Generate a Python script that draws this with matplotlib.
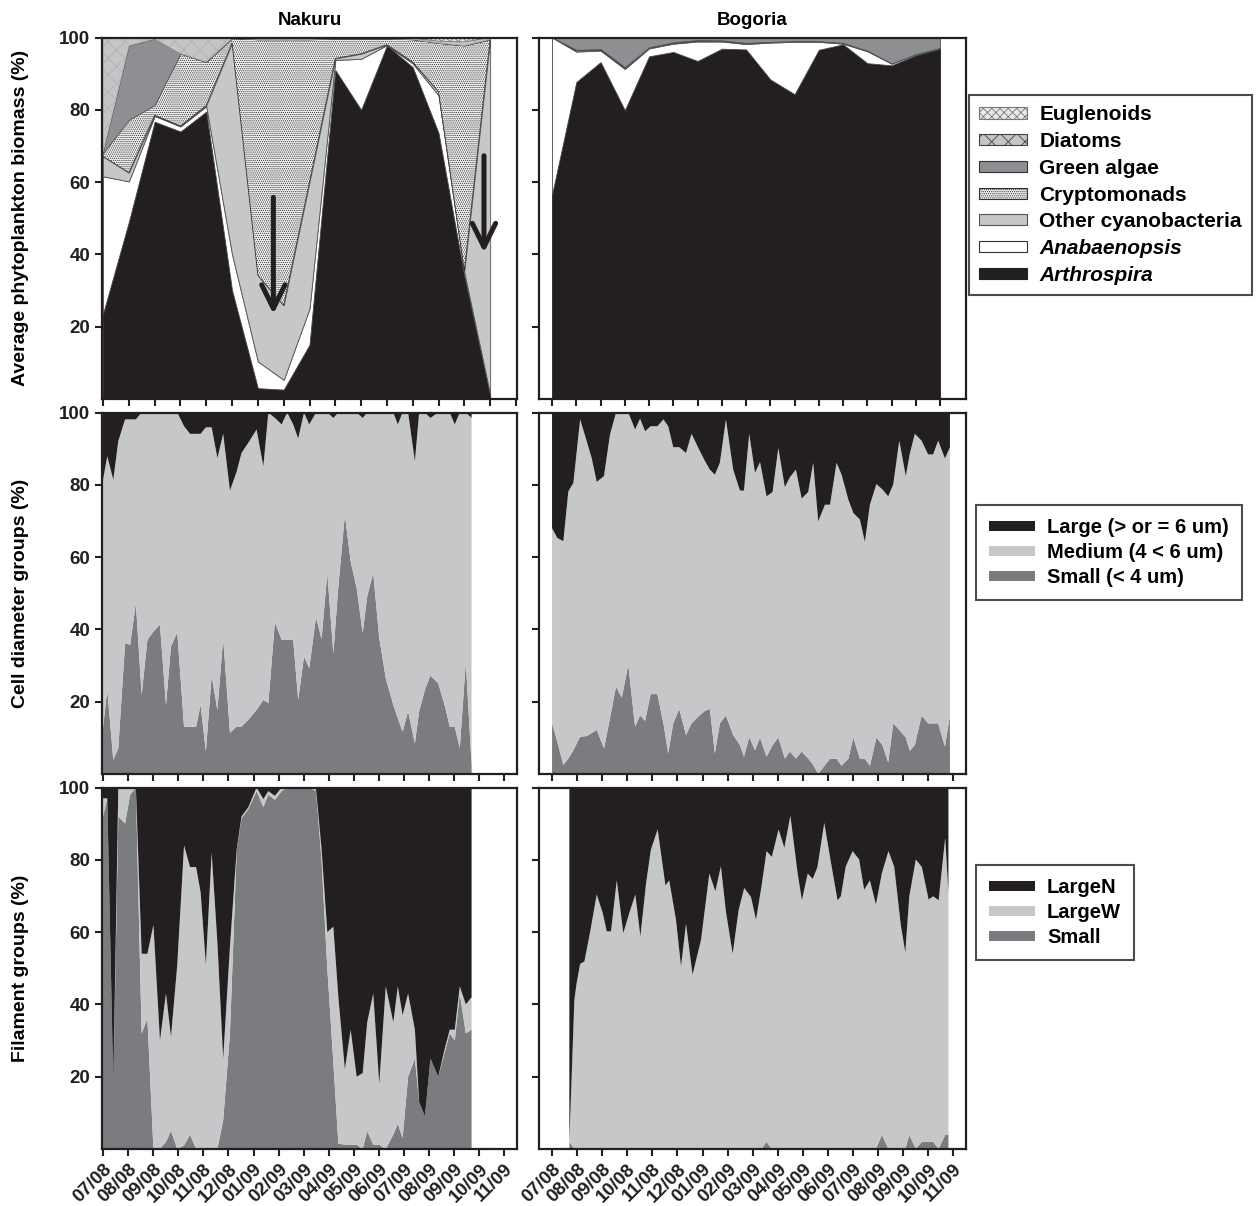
import numpy as np
import matplotlib.pyplot as plt
from matplotlib.patches import Patch

plt.rcParams['font.family'] = ['Liberation Sans', 'DejaVu Sans']
plt.rcParams['font.weight'] = 'bold'
plt.rcParams['hatch.linewidth'] = 0.6

BLACK = '#231f20'
LIGHT = '#c6c7c9'
DARK = '#7b7c80'

month_labels = ['07/08', '08/08', '09/08', '10/08', '11/08', '12/08', '01/09', '02/09', '03/09',
                '04/09', '05/09', '06/09', '07/09', '08/09', '09/09', '10/09', '11/09']

# ---- phytoplankton biomass (%), per sampling event ----
nak_arthrospira = [23.6, 49.0, 76.7, 74.0, 79.5, 30.0, 3.0, 2.6, 15.0, 91.0, 80.0, 97.8, 91.8, 73.6, 34.0, 1.2]
nak_anabaenopsis = [38.0, 11.2, 1.6, 1.4, 1.5, 10.0, 7.4, 2.7, 10.0, 2.8, 14.1, 0.1, 1.0, 10.4, 1.0, 0.1]
nak_othercyano = [5.5, 2.4, 0.2, 0.1, 0.2, 58.5, 23.8, 20.6, 35.0, 0.4, 1.4, 0.1, 0.4, 1.0, 0.5, 98.2]
nak_crypto = [0.9, 14.6, 2.8, 20.0, 12.0, 1.3, 65.3, 73.6, 39.5, 5.5, 4.2, 1.7, 6.3, 13.5, 62.3, 0.0]
nak_green = [0.5, 20.6, 18.4, 0.1, 0.1, 0, 0, 0, 0, 0, 0, 0, 0, 0, 0, 0]
nak_diatoms = [31.5, 2.2, 0.3, 4.4, 6.7, 0.2, 0.3, 0.3, 0.3, 0.2, 0.2, 0.2, 0.3, 0.5, 1.0, 0.5]
nak_euglenoids = [0, 0, 0, 0, 0, 0, 0.2, 0.2, 0.2, 0.1, 0.1, 0.1, 0.2, 1.0, 1.2, 0]

bog_arthrospira = [56.6, 87.7, 93.2, 79.9, 94.8, 96.0, 93.5, 96.9, 96.7, 88.4, 84.3, 96.6, 98.1, 92.9, 92.3, 95.1, 96.9]
bog_anabaenopsis = [43.4, 8.4, 3.2, 11.4, 2.2, 2.3, 5.4, 2.0, 1.5, 10.2, 14.5, 2.2, 0.2, 3.3, 0.5, 0.3, 0.2]
bog_othercyano = [0, 0.3, 0.2, 0.3, 0.2, 0.2, 0.2, 0.2, 0.2, 0.2, 0.2, 0.2, 0.2, 0.2, 0, 0, 0]
bog_crypto = [0, 0.2, 0.2, 0.2, 0.1, 0.2, 0.2, 0.1, 0.1, 0, 0, 0, 0, 0, 0, 0, 0]
bog_green = [0, 3.4, 3.2, 8.2, 2.7, 1.3, 0.7, 0.8, 1.5, 1.2, 1.0, 1.0, 1.5, 3.6, 7.2, 4.6, 2.9]
bog_diatoms = [0] * 17
bog_euglenoids = [0] * 17

# ---- Nakuru weekly samples (months since 07/08) ----
nak_t = [0.00, 0.17, 0.41, 0.61, 0.88, 1.08, 1.31, 1.54, 1.77, 2.01,
         2.27, 2.51, 2.71, 2.96, 3.23, 3.47, 3.71, 3.89, 4.10, 4.33,
         4.56, 4.79, 5.06, 5.33, 5.52, 5.79, 6.12, 6.39, 6.59, 6.85,
         7.12, 7.34, 7.58, 7.78, 8.01, 8.22, 8.49, 8.71, 8.94, 9.18,
         9.38, 9.64, 9.87, 10.11, 10.35, 10.53, 10.77, 11.01, 11.27, 11.57,
         11.75, 11.94, 12.16, 12.43, 12.60, 12.83, 13.05, 13.36, 13.63, 13.82,
         14.02, 14.22, 14.46, 14.69]
nak_cell_small = [12.7, 23.4, 3.9, 7.1, 36.2, 35.7, 47.3, 21.9, 37.1, 39.4,
                  41.3, 19.1, 35.3, 39.2, 13.1, 13.1, 13.1, 19.1, 6.2, 27.2,
                  17.7, 37.6, 11.4, 13.1, 13.1, 15.0, 17.7, 20.5, 19.6, 42.0,
                  37.1, 37.1, 37.1, 20.5, 32.5, 29.3, 43.4, 37.3, 55.6, 33.4,
                  51.9, 71.7, 58.8, 51.4, 39.0, 49.1, 55.6, 37.6, 26.5, 19.1,
                  15.4, 11.7, 17.3, 8.5, 17.3, 23.3, 27.2, 25.1, 18.7, 13.1,
                  13.1, 7.1, 31.1, 2.5]
nak_cell_large = [18.6, 12.1, 18.6, 7.9, 1.9, 1.9, 1.9, 0, 0, 0,
                  0, 0, 0, 0, 3.8, 5.9, 5.9, 5.9, 4.1, 4.1,
                  12.6, 5.9, 21.6, 16.3, 11.2, 8.4, 4.7, 14.9, 0, 1.5,
                  3.3, 0, 3.3, 7.2, 0, 3.3, 0, 0, 0, 1.5,
                  0, 0, 0, 0, 1.5, 0, 0, 0, 0, 0,
                  3.3, 0, 0, 13.5, 0, 0, 1.5, 0, 0, 0,
                  3.3, 0, 0, 1.5]
nak_fil_small = [92, 97, 18, 92, 90, 98, 100, 32, 36, 0,
                 0, 2, 5, 0, 1, 4, 0, 0, 0, 0,
                 0, 8, 32, 83, 91.5, 94, 99, 94.6, 98, 96.6,
                 99, 100, 100, 100, 100, 100, 99, 80, 50, 24,
                 1.5, 1.2, 1.2, 1.2, 0, 5, 1.2, 1.2, 0, 4,
                 7, 3, 20, 25, 13, 9, 25, 20, 27, 32,
                 30, 43, 32, 33]
nak_fil_largeN = [3, 3, 82, 0, 0, 0, 0, 46, 46, 38,
                  70, 57, 69, 49, 16, 22, 22, 29, 49, 18,
                  43, 75, 44, 17, 8, 5.5, 0, 3.2, 1, 2.3,
                  0, 0, 0, 0, 0, 0, 0.5, 17, 40, 38.5,
                  58, 78, 67, 80, 79, 65, 57, 82, 55, 65,
                  55, 63, 57, 67, 87, 91, 75, 80, 72, 67,
                  67, 55, 60, 58]

# ---- Bogoria samples ----
bog_cell_t = [0.0, 0.21, 0.45, 0.65, 0.85, 1.12, 1.38, 1.58, 1.78, 2.07,
              2.31, 2.55, 2.78, 3.04, 3.31, 3.51, 3.71, 3.93, 4.20, 4.44,
              4.63, 4.83, 5.07, 5.34, 5.56, 5.83, 6.10, 6.29, 6.49, 6.69,
              6.93, 7.22, 7.49, 7.65, 7.86, 8.09, 8.29, 8.55, 8.79, 9.02,
              9.28, 9.48, 9.72, 9.95, 10.21, 10.41, 10.61, 10.88, 11.08, 11.34,
              11.54, 11.81, 12.01, 12.27, 12.47, 12.67, 12.93, 13.17, 13.40, 13.60,
              13.84, 14.10, 14.26, 14.46, 14.73, 14.99, 15.19, 15.39, 15.66, 15.86]
bog_cell_small = [14.0, 9.0, 2.5, 4.3, 6.6, 10.3, 10.5, 11.3, 12.2, 7.1,
                  15.4, 24.2, 21.1, 30.2, 13.1, 16.2, 14.7, 22.1, 22.1, 14.0,
                  5.7, 14.0, 18.0, 10.8, 14.0, 15.9, 17.5, 18.0, 5.7, 14.0,
                  16.2, 10.8, 8.0, 4.8, 10.2, 6.6, 10.1, 4.8, 8.0, 10.1,
                  4.3, 6.2, 4.3, 6.2, 4.3, 2.5, 0.0, 2.5, 4.2, 4.2,
                  2.3, 4.2, 10.1, 4.2, 4.2, 2.3, 10.1, 8.0, 3.2, 14.0,
                  12.2, 10.1, 6.4, 8.0, 16.2, 14.0, 14.0, 14.0, 7.6, 16.2]
bog_cell_large = [32.0, 34.7, 35.6, 21.8, 19.5, 1.9, 7.9, 12.6, 19.2, 17.6,
                  6.1, 0.0, 0.0, 0.0, 4.7, 1.7, 5.2, 3.8, 3.8, 1.9,
                  3.8, 9.6, 9.6, 11.2, 5.9, 9.8, 13.5, 15.8, 17.2, 13.9,
                  1.9, 15.8, 21.6, 21.6, 5.9, 16.7, 13.7, 23.2, 22.0, 9.8,
                  20.7, 17.9, 15.8, 23.8, 22.0, 13.9, 30.1, 25.5, 25.5, 13.9,
                  17.2, 24.1, 27.8, 29.6, 35.8, 25.5, 19.8, 21.3, 23.2, 19.9,
                  7.8, 17.6, 11.4, 5.9, 7.8, 11.6, 11.6, 7.8, 12.7, 9.6]

bog_fil_t = [0.69, 0.89, 0.98, 1.12, 1.29, 1.51, 1.78, 2.02, 2.18, 2.35,
             2.58, 2.84, 3.08, 3.32, 3.52, 3.75, 3.94, 4.21, 4.52, 4.67,
             4.94, 5.14, 5.34, 5.60, 5.94, 6.27, 6.51, 6.73, 6.93, 7.20,
             7.44, 7.66, 7.93, 8.13, 8.35, 8.55, 8.76, 9.03, 9.26, 9.50,
             9.79, 9.96, 10.19, 10.39, 10.58, 10.85, 11.12, 11.38, 11.51, 11.71,
             11.98, 12.24, 12.44, 12.67, 12.91, 13.15, 13.41, 13.64, 13.90, 14.08,
             14.24, 14.50, 14.74, 15.01, 15.19, 15.41, 15.67, 15.80]
bog_fil_largeN = [98, 58.7, 54.1, 48.8, 48.1, 40.3, 29.6, 34.7, 39.8, 39.8,
                  25.7, 40.3, 34.7, 29.6, 41.2, 26.4, 17.2, 11.6, 27.1, 25.7,
                  36.6, 49.5, 37.7, 51.8, 42.1, 23.8, 28.7, 21.8, 34.3, 46.0,
                  33.8, 27.8, 30.3, 36.6, 27.3, 17.6, 19.2, 11.6, 16.7, 7.8,
                  23.8, 31.2, 23.8, 25.3, 22.0, 9.8, 20.9, 31.2, 30.1, 21.8,
                  17.6, 19.9, 28.3, 25.7, 32.4, 23.6, 17.6, 22.0, 38.0, 45.6,
                  30.1, 19.9, 22.0, 31.0, 30.1, 31.2, 13.9, 29.0]
bog_fil_small = [2, 0, 0, 0, 0, 0, 0, 0, 0, 0,
                 0, 0, 0, 0, 0, 0, 0, 0, 0, 0,
                 0, 0, 0, 0, 0, 0, 0, 0, 0, 0,
                 0, 0, 0, 0, 0, 2, 0, 0, 0, 0,
                 0, 0, 0, 0, 0, 0, 0, 0, 0, 0,
                 0, 0, 0, 0, 0, 3.9, 0, 0, 0, 0,
                 3.9, 0, 2, 2, 2, 0, 3.9, 4]

# layer styles for the biomass panels (bottom -> top)
biomass_names = ['Arthrospira', 'Anabaenopsis', 'Other cyanobacteria', 'Cryptomonads',
                 'Green algae', 'Diatoms', 'Euglenoids']
biomass_face = [BLACK, 'white', LIGHT, '#f4f4f4', '#8e8f92', '#c4c5c7', '#e8e8e8']
biomass_hatch = [None, None, None, '........', None, 'xx', 'xxxx']
biomass_edge = [BLACK, '#444444', '#555555', '#333333', '#555555', '#b0b1b3', '#777777']
legend_edge = [BLACK, '#333333', '#555555', '#333333', '#333333', '#444444', '#777777']

fig = plt.figure(figsize=(12.57, 12.06), dpi=100)

LEFT_X, LEFT_W = 102 / 1257, 415 / 1257
RIGHT_X, RIGHT_W = 539 / 1257, 427 / 1257
ROWS = [(1 - 399 / 1206), (1 - 774 / 1206), (1 - 1149 / 1206)]
H = 361.5 / 1206


def make_ax(x0, w, row, xlim, show_ylab, show_xlab):
    ax = fig.add_axes([x0, ROWS[row], w, H])
    ax.set_xlim(*xlim)
    ax.set_ylim(0, 100)
    ax.set_xticks(range(17))
    ax.set_yticks([20, 40, 60, 80, 100])
    for s in ax.spines.values():
        s.set_linewidth(1.6)
        s.set_color(BLACK)
    ax.tick_params(direction='out', length=5, width=1.5, labelsize=13.5, colors=BLACK)
    if not show_ylab:
        ax.tick_params(labelleft=False)
    if show_xlab:
        ax.set_xticklabels(month_labels, rotation=45, ha='right', rotation_mode='anchor')
    else:
        ax.tick_params(labelbottom=False)
    return ax


def stack_biomass(ax, layers):
    x = np.arange(len(layers[0]))
    base = np.zeros(len(x))
    for vals, fc, hatch, ec in zip(layers, biomass_face, biomass_hatch, biomass_edge):
        top = base + np.array(vals)
        ax.fill_between(x, base, top, facecolor=fc, edgecolor=ec, hatch=hatch, lw=0.6)
        base = top


def stack_groups(ax, t, small, large):
    small = np.array(small)
    large = np.array(large)
    medium = np.clip(100 - small - large, 0, None)
    ax.stackplot(t, small, medium, large, colors=[DARK, LIGHT, BLACK], lw=0)


# row 1: biomass
ax1 = make_ax(LEFT_X, LEFT_W, 0, (-0.04, 16.04), True, False)
stack_biomass(ax1, [nak_arthrospira, nak_anabaenopsis, nak_othercyano, nak_crypto,
                    nak_green, nak_diatoms, nak_euglenoids])
arrow = dict(arrowstyle='->,head_length=0.85,head_width=0.42', lw=3.6, color=BLACK,
             mutation_scale=20, shrinkA=0, shrinkB=0)
ax1.annotate('', xy=(6.6, 23.5), xytext=(6.6, 55.8), arrowprops=arrow)
ax1.annotate('', xy=(14.76, 40.5), xytext=(14.76, 67.3), arrowprops=arrow)
ax1.set_title('Nakuru', fontsize=13.5, fontweight='bold', pad=9)
ax1.set_ylabel('Average phytoplankton biomass (%)', fontsize=14, fontweight='bold')

ax2 = make_ax(RIGHT_X, RIGHT_W, 0, (-0.54, 17.07), False, False)
stack_biomass(ax2, [bog_arthrospira, bog_anabaenopsis, bog_othercyano, bog_crypto,
                    bog_green, bog_diatoms, bog_euglenoids])
ax2.set_title('Bogoria', fontsize=13.5, fontweight='bold', pad=9)

# row 2: cell diameter groups
ax3 = make_ax(LEFT_X, LEFT_W, 1, (-0.04, 16.5), True, False)
stack_groups(ax3, nak_t, nak_cell_small, nak_cell_large)
ax3.set_ylabel('Cell diameter groups (%)', fontsize=14, fontweight='bold')

ax4 = make_ax(RIGHT_X, RIGHT_W, 1, (-0.52, 16.5), False, False)
stack_groups(ax4, bog_cell_t, bog_cell_small, bog_cell_large)

# row 3: filament groups
ax5 = make_ax(LEFT_X, LEFT_W, 2, (-0.04, 16.5), True, True)
stack_groups(ax5, nak_t, nak_fil_small, nak_fil_largeN)
ax5.set_ylabel('Filament groups (%)', fontsize=14, fontweight='bold')

ax6 = make_ax(RIGHT_X, RIGHT_W, 2, (-0.52, 16.5), False, True)
stack_groups(ax6, bog_fil_t, bog_fil_small, bog_fil_largeN)

for ax in (ax1, ax3, ax5):
    ax.yaxis.set_label_coords(-0.175, 0.5)

# legends
leg_kw = dict(loc='upper left', borderaxespad=0, frameon=True, fancybox=False,
              edgecolor=BLACK, handlelength=2.26, handleheight=0.45, handletextpad=0.62)

h1 = [Patch(facecolor=fc, edgecolor=ec, hatch=h, lw=0.8)
      for fc, h, ec in zip(biomass_face, biomass_hatch, legend_edge)][::-1]
leg1 = fig.legend(h1, biomass_names[::-1], bbox_to_anchor=(969 / 1257, 1 - 95 / 1206),
                  fontsize=15, labelspacing=0.37, borderpad=0.5, **leg_kw)
for txt in leg1.get_texts():
    if txt.get_text() in ('Anabaenopsis', 'Arthrospira'):
        txt.set_style('italic')

h2 = [Patch(facecolor=c, edgecolor='none') for c in (BLACK, LIGHT, DARK)]
leg2 = fig.legend(h2, ['Large (> or = 6 um)', 'Medium (4 < 6 um)', 'Small (< 4 um)'],
                  bbox_to_anchor=(976 / 1257, 1 - 505 / 1206),
                  fontsize=14.5, labelspacing=0.3, borderpad=0.65, **leg_kw)
leg3 = fig.legend(h2, ['LargeN', 'LargeW', 'Small'],
                  bbox_to_anchor=(976 / 1257, 1 - 865 / 1206),
                  fontsize=14.5, labelspacing=0.3, borderpad=0.65, **leg_kw)
for leg in (leg1, leg2, leg3):
    leg.get_frame().set_linewidth(1.5)

fig.savefig('out.png', dpi=100)
